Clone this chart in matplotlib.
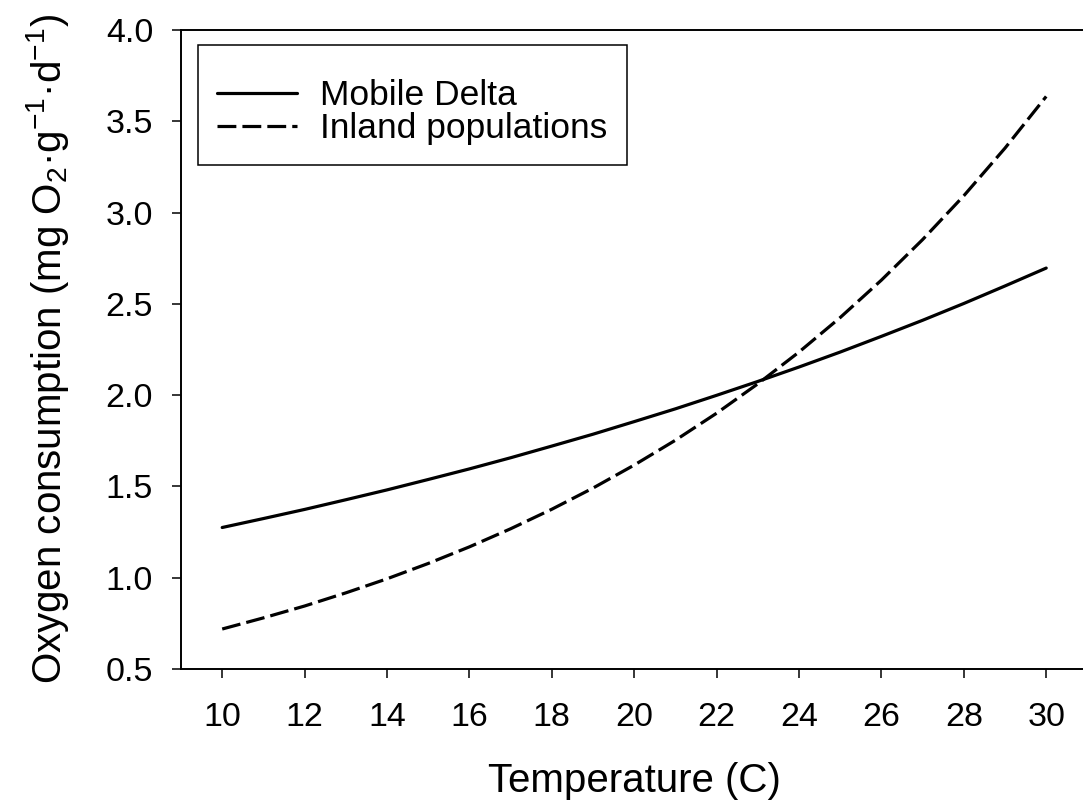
import matplotlib
matplotlib.use("Agg")
import matplotlib.pyplot as plt

# Data
temperature = [10, 11, 12, 13, 14, 15, 16, 17, 18, 19, 20,
               21, 22, 23, 24, 25, 26, 27, 28, 29, 30]
mobile_delta = [1.275, 1.324, 1.374, 1.427, 1.481, 1.538, 1.596, 1.657, 1.721, 1.786, 1.855,
                1.925, 1.999, 2.075, 2.154, 2.236, 2.322, 2.410, 2.502, 2.598, 2.696]
inland = [0.719, 0.780, 0.845, 0.917, 0.994, 1.078, 1.169, 1.268, 1.375, 1.491, 1.617,
          1.753, 1.901, 2.062, 2.236, 2.425, 2.630, 2.852, 3.092, 3.353, 3.636]
series_labels = ["Mobile Delta", "Inland populations"]
x_ticks = [10, 12, 14, 16, 18, 20, 22, 24, 26, 28, 30]
y_ticks = [0.5, 1.0, 1.5, 2.0, 2.5, 3.0, 3.5, 4.0]

plt.rcParams['font.family'] = ['Liberation Sans', 'DejaVu Sans']
plt.rcParams['mathtext.fontset'] = 'custom'
plt.rcParams['mathtext.rm'] = 'Liberation Sans'
plt.rcParams['mathtext.it'] = 'Liberation Sans:italic'
plt.rcParams['mathtext.bf'] = 'Liberation Sans:bold'

W, H = 1083, 809
fig = plt.figure(figsize=(W / 100, H / 100), dpi=100)
ax_left, ax_right, ax_top, ax_bottom = 181, 1087.4, 30, 669
ax = fig.add_axes([ax_left / W, 1 - ax_bottom / H,
                   (ax_right - ax_left) / W, (ax_bottom - ax_top) / H])

lw = 2.3
ax.plot(temperature, mobile_delta, color='black', lw=lw, solid_capstyle='round',
        label=series_labels[0])
ax.plot(temperature, inland, color='black', lw=lw, ls=(0, (5.9, 1.9)),
        label=series_labels[1])

ax.set_xlim(9, 31)
ax.set_ylim(0.5, 4.0)
ax.set_xticks(x_ticks)
ax.set_yticks(y_ticks)
ax.set_yticklabels([f"{v:.1f}" for v in y_ticks])

for s in ['left', 'bottom', 'top', 'right']:
    ax.spines[s].set_linewidth(1.4)
ax.tick_params(direction='out', length=6.5, width=1.1, labelsize=24.5)
ax.tick_params(axis='x', pad=17.5)
ax.tick_params(axis='y', pad=13.5)

ax.set_xlabel("Temperature (C)", fontsize=29, labelpad=20.5)
ax.set_ylabel("Oxygen consumption (mg O$_2$·g$^{-1}$·d$^{-1}$)", fontsize=29)
ax.yaxis.set_label_coords((71 - ax_left) / (ax_right - ax_left), 0.5)

leg = ax.legend(loc='upper left',
                bbox_to_anchor=((198 - ax_left) / (ax_right - ax_left),
                                (ax_bottom - 45) / (ax_bottom - ax_top)),
                borderaxespad=0, fontsize=25.5, frameon=True, fancybox=False,
                edgecolor='black', handlelength=2.25, handletextpad=0.65,
                borderpad=0.55, labelspacing=0.0,
                title=" ", title_fontsize=12.5)
leg.get_frame().set_linewidth(1.1)
leg.get_frame().set_alpha(1)

fig.savefig("out.png", dpi=100)
